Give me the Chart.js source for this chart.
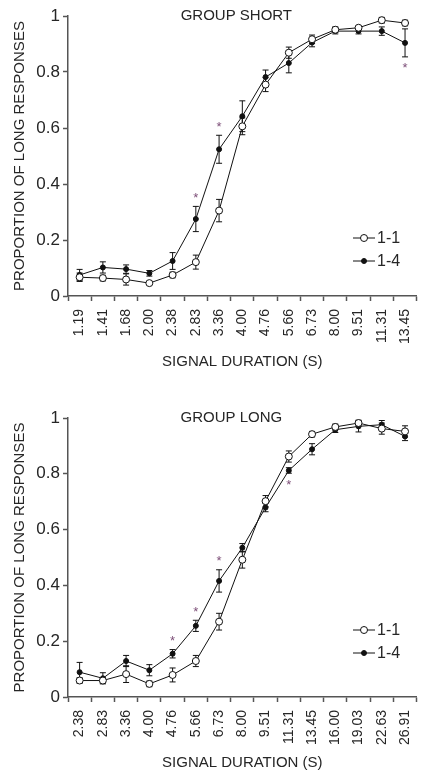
<!DOCTYPE html>
<html>
<head>
<meta charset="utf-8">
<script src="https://cdn.jsdelivr.net/npm/chart.js@4.4.1/dist/chart.umd.min.js"></script>
<style>
  html, body { margin: 0; padding: 0; background: #fff; }
  body { width: 422px; height: 776px; overflow: hidden; }
  .panel { width: 430px; height: 388px; }
</style>
</head>
<body>
<div class="panel"><canvas id="shortChart" width="430" height="388"></canvas></div>
<div class="panel"><canvas id="longChart" width="430" height="388"></canvas></div>
<script>
// group short
const shortLabels = ["1.19", "1.41", "1.68", "2.00", "2.38", "2.83", "3.36", "4.00", "4.76", "5.66", "6.73", "8.00", "9.51", "11.31", "13.45"];
const short11 = [0.067, 0.064, 0.059, 0.046, 0.075, 0.121, 0.305, 0.606, 0.755, 0.869, 0.917, 0.951, 0.958, 0.985, 0.975];
const short11Err = [0.015, 0.01, 0.02, 0.005, 0.01, 0.025, 0.04, 0.03, 0.025, 0.02, 0.015, 0.01, 0.005, 0.01, 0.01];
const short14 = [0.075, 0.102, 0.096, 0.081, 0.125, 0.275, 0.524, 0.642, 0.782, 0.832, 0.905, 0.946, 0.946, 0.946, 0.904];
const short14Err = [0.02, 0.02, 0.015, 0.01, 0.03, 0.045, 0.05, 0.055, 0.025, 0.035, 0.015, 0.01, 0.01, 0.015, 0.05];
const shortStarIdx = [5, 6, 14];
const shortStarSide = ["above", "above", "below"];

// group long
const longLabels = ["2.38", "2.83", "3.36", "4.00", "4.76", "5.66", "6.73", "8.00", "9.51", "11.31", "13.45", "16.00", "19.03", "22.63", "26.91"];
const long11 = [0.059, 0.059, 0.082, 0.047, 0.079, 0.129, 0.27, 0.492, 0.702, 0.862, 0.942, 0.968, 0.982, 0.962, 0.952];
const long11Err = [0.01, 0.01, 0.03, 0.01, 0.025, 0.02, 0.03, 0.03, 0.02, 0.02, 0.01, 0.01, 0.01, 0.02, 0.02];
const long14 = [0.089, 0.067, 0.129, 0.096, 0.155, 0.255, 0.416, 0.535, 0.679, 0.812, 0.888, 0.958, 0.970, 0.976, 0.934];
const long14Err = [0.035, 0.02, 0.02, 0.02, 0.015, 0.02, 0.04, 0.015, 0.015, 0.01, 0.02, 0.01, 0.02, 0.015, 0.015];
const longStarIdx = [4, 5, 6, 9];
const longStarSide = ["above", "above", "above", "below"];

const yTicks = [0, 0.2, 0.4, 0.6, 0.8, 1];

const FONT = "'Liberation Sans', Arial, sans-serif";
const TEXT = "#262626";
const AXIS = "#555";
Chart.defaults.font.family = FONT;
Chart.defaults.color = TEXT;

// error bars, asterisks, panel title and the little legend
const panelPlugin = {
  id: "panel",
  beforeDatasetsDraw(chart) {
    const ctx = chart.ctx;
    const y = chart.scales.y;
    ctx.save();
    ctx.strokeStyle = "#111";
    ctx.lineWidth = 1;
    chart.data.datasets.forEach(function (ds, di) {
      const meta = chart.getDatasetMeta(di);
      meta.data.forEach(function (pt, i) {
        const top = y.getPixelForValue(ds.data[i] + ds.errs[i]);
        const bot = y.getPixelForValue(ds.data[i] - ds.errs[i]);
        ctx.beginPath();
        ctx.moveTo(pt.x, top); ctx.lineTo(pt.x, bot);
        ctx.moveTo(pt.x - 3, top); ctx.lineTo(pt.x + 3, top);
        ctx.moveTo(pt.x - 3, bot); ctx.lineTo(pt.x + 3, bot);
        ctx.stroke();
      });
    });
    ctx.restore();
  },
  afterDraw(chart, args, opts) {
    const ctx = chart.ctx;
    const area = chart.chartArea;
    const y = chart.scales.y;
    const ds = chart.data.datasets[1];
    const meta = chart.getDatasetMeta(1);
    ctx.save();

    // title
    ctx.fillStyle = TEXT;
    ctx.font = "15px " + FONT;
    ctx.textAlign = "center";
    ctx.textBaseline = "middle";
    ctx.fillText(opts.title, (area.left + area.right) / 2 + opts.titleDx, area.top);

    // asterisks
    ctx.fillStyle = "#7d4f78";
    ctx.font = "13px " + FONT;
    opts.starIdx.forEach(function (idx, k) {
      const pt = meta.data[idx];
      let py;
      if (opts.starSide[k] === "above") {
        py = y.getPixelForValue(ds.data[idx] + ds.errs[idx]) - 8;
      } else {
        py = y.getPixelForValue(ds.data[idx] - ds.errs[idx]) + 12;
      }
      ctx.fillText("*", pt.x, py);
    });

    // legend
    ctx.font = "16px " + FONT;
    ctx.textAlign = "left";
    chart.data.datasets.forEach(function (d, i) {
      const ly = area.bottom - opts.legendBottom + i * 23;
      const x0 = 353, x1 = 375;
      ctx.strokeStyle = "#111";
      ctx.lineWidth = 1;
      ctx.beginPath();
      ctx.moveTo(x0, ly); ctx.lineTo(x1, ly);
      ctx.stroke();
      ctx.beginPath();
      ctx.arc((x0 + x1) / 2, ly, d.pointRadius, 0, Math.PI * 2);
      ctx.fillStyle = d.pointBackgroundColor;
      ctx.fill();
      ctx.stroke();
      ctx.fillStyle = TEXT;
      ctx.fillText(d.label, x1 + 2, ly + 1);
    });
    ctx.restore();
  },
};

function makeChart(id, labels, a, aErr, b, bErr, panelOpts, pad) {
  return new Chart(document.getElementById(id), {
    type: "line",
    data: {
      labels: labels,
      datasets: [
        {
          label: "1-1",
          data: a,
          errs: aErr,
          borderColor: "#111",
          borderWidth: 1,
          pointRadius: 3.5,
          pointBackgroundColor: "#fff",
          pointBorderColor: "#111",
          pointBorderWidth: 1,
          tension: 0,
        },
        {
          label: "1-4",
          data: b,
          errs: bErr,
          borderColor: "#111",
          borderWidth: 1,
          pointRadius: 2.5,
          pointBackgroundColor: "#111",
          pointBorderColor: "#111",
          pointBorderWidth: 1,
          tension: 0,
        },
      ],
    },
    options: {
      responsive: false,
      animation: false,
      devicePixelRatio: 1,
      layout: { padding: pad },
      plugins: {
        legend: { display: false },
        tooltip: { enabled: false },
        panel: panelOpts,
      },
      scales: {
        x: {
          type: "category",
          offset: true,
          grid: { offset: true, drawOnChartArea: false, tickLength: 5, tickColor: AXIS, tickWidth: 1.5 },
          border: { color: AXIS, width: 1.5 },
          ticks: { minRotation: 90, maxRotation: 90, autoSkip: false, padding: 8, font: { size: 14 }, color: TEXT },
          title: { display: true, text: "SIGNAL DURATION (S)", font: { size: 15 }, color: TEXT, padding: { top: 4, bottom: 4 } },
          afterFit: function (s) { s.height = 79; },
        },
        y: {
          min: 0,
          max: 1,
          afterBuildTicks: function (s) { s.ticks = yTicks.map(function (v) { return { value: v }; }); },
          grid: { drawOnChartArea: false, tickLength: 5, tickColor: AXIS, tickWidth: 1.5 },
          border: { color: AXIS, width: 1.5 },
          ticks: { padding: 3, font: { size: 17 }, color: TEXT, callback: function (v) { return String(v); } },
          title: { display: true, text: "PROPORTION OF LONG RESPONSES", font: { size: 15 }, color: TEXT, padding: { top: 11, bottom: 4 } },
          afterFit: function (s) { s.width = 68; },
        },
      },
    },
    plugins: [panelPlugin],
  });
}

makeChart("shortChart", shortLabels, short11, short11Err, short14, short14Err,
  { title: "GROUP SHORT", titleDx: -6, starIdx: shortStarIdx, starSide: shortStarSide, legendBottom: 58 },
  { top: 16, right: 2, bottom: 13, left: 0 });

makeChart("longChart", longLabels, long11, long11Err, long14, long14Err,
  { title: "GROUP LONG", titleDx: -11, starIdx: longStarIdx, starSide: longStarSide, legendBottom: 67 },
  { top: 30, right: 2, bottom: 0, left: 0 });
</script>
</body>
</html>
